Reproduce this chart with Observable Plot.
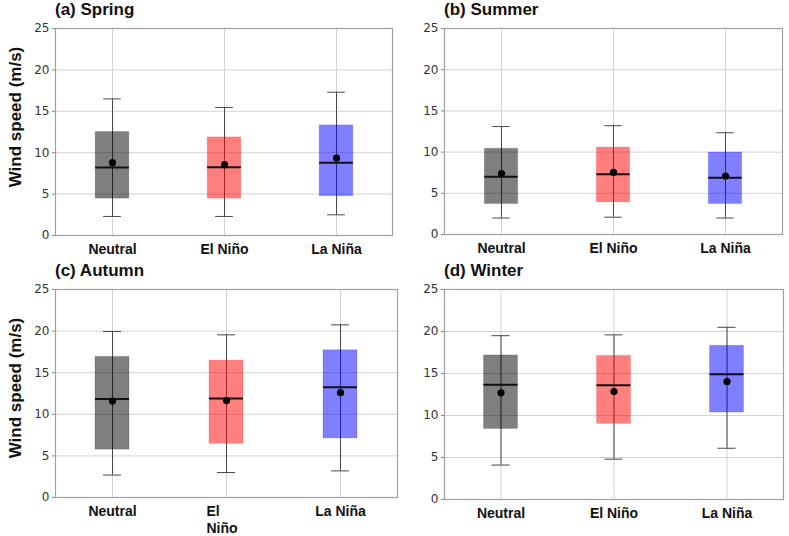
<!DOCTYPE html>
<html>
<head>
<meta charset="utf-8">
<script src="https://cdn.jsdelivr.net/npm/d3@7"></script>
<script src="https://cdn.jsdelivr.net/npm/@observablehq/plot@0.6"></script>
<style>
  html, body { margin: 0; padding: 0; background: #fff; }
  #wrap { position: relative; width: 789px; height: 536px; overflow: hidden; font-family: "Liberation Sans", Arial, sans-serif; }
  .panel { position: absolute; }
  .title { position: absolute; font-weight: bold; font-size: 17px; color: #111; white-space: nowrap; }
  .ylab { position: absolute; font-weight: bold; font-size: 17px; color: #111; white-space: nowrap; transform: translate(-50%, -50%) rotate(-90deg); }
</style>
</head>
<body>
<div id="wrap"></div>
<script>
// ---- data ----
const categories = ["Neutral", "El Niño", "La Niña"];
const seasons = ["(a) Spring", "(b) Summer", "(c) Autumn", "(d) Winter"];
const boxColors = ["#000000", "#ff0000", "#0000ff"];
const yTicks = [0, 5, 10, 15, 20, 25];
// one row per season, values in category order
const whiskerLow  = [[2.3, 2.3, 2.5], [2.0, 2.1, 2.0], [2.7, 3.0, 3.2], [4.1, 4.8, 6.1]];
const quartile1   = [[4.45, 4.45, 4.75], [3.7, 3.9, 3.7], [5.75, 6.45, 7.1], [8.4, 9.0, 10.35]];
const medianVal   = [[8.2, 8.25, 8.8], [7.0, 7.3, 6.9], [11.85, 11.9, 13.25], [13.65, 13.6, 14.9]];
const quartile3   = [[12.5, 11.85, 13.3], [10.4, 10.55, 9.95], [16.9, 16.45, 17.7], [17.15, 17.1, 18.3]];
const whiskerHigh = [[16.5, 15.45, 17.3], [13.1, 13.2, 12.35], [19.95, 19.55, 20.75], [19.5, 19.6, 20.5]];
const meanVal     = [[8.8, 8.55, 9.35], [7.4, 7.55, 7.1], [11.6, 11.65, 12.6], [12.7, 12.85, 14.05]];

// ---- layout ----
const panels = [
  {left: 0,   top: 0,   width: 395, height: 270, mL: 55, mT: 28, mR: 3, mB: 35, ylab: true},
  {left: 395, top: 0,   width: 394, height: 270, mL: 49, mT: 28, mR: 7, mB: 36, ylab: false},
  {left: 0,   top: 270, width: 400, height: 266, mL: 55, mT: 19, mR: 3, mB: 39, ylab: true},
  {left: 395, top: 270, width: 394, height: 266, mL: 49, mT: 19, mR: 6, mB: 37, ylab: false}
];

const wrap = document.getElementById("wrap");
const labelFont = "Liberation Sans, Arial, sans-serif";

panels.forEach((p, si) => {
  const rows = categories.map((c, i) => ({
    cat: c,
    color: boxColors[i],
    low: whiskerLow[si][i],
    q1: quartile1[si][i],
    med: medianVal[si][i],
    q3: quartile3[si][i],
    high: whiskerHigh[si][i],
    mean: meanVal[si][i]
  }));
  const plotW = p.width - p.mL - p.mR;
  const step = plotW / 3;
  const boxInset = (step - 34) / 2;
  const capInset = (step - 18) / 2;

  const xAxes = si === 2
    ? [
        Plot.axisX({ticks: ["Neutral", "La Niña"], tickSize: 0, tickPadding: 9, fontSize: 14, fontWeight: "bold", fill: "#111", label: null, fontFamily: labelFont}),
        Plot.axisX({ticks: ["El Niño"], tickFormat: () => "El\nNiño", textAnchor: "start", dx: -20, lineHeight: 1.2, tickSize: 0, tickPadding: 7, fontSize: 14, fontWeight: "bold", fill: "#111", label: null, fontFamily: labelFont})
      ]
    : [
        Plot.axisX({tickSize: 0, tickPadding: 9, fontSize: 14, fontWeight: "bold", fill: "#111", label: null, fontFamily: labelFont})
      ];

  const chart = Plot.plot({
    width: p.width,
    height: p.height,
    marginLeft: p.mL,
    marginTop: p.mT,
    marginRight: p.mR,
    marginBottom: p.mB,
    style: {background: "transparent", overflow: "visible"},
    x: {type: "band", domain: categories, padding: 0},
    y: {domain: [0, 25], ticks: yTicks},
    marks: [
      Plot.gridY(yTicks, {stroke: "#c8c8c8", strokeOpacity: 1, strokeWidth: 0.8}),
      Plot.gridX(categories, {stroke: "#c8c8c8", strokeOpacity: 1, strokeWidth: 0.8}),
      Plot.ruleX(rows, {x: "cat", y1: "low", y2: "high", stroke: "#484848", strokeWidth: 1}),
      Plot.tickY(rows, {x: "cat", y: "low", stroke: "#484848", strokeWidth: 1, insetLeft: capInset, insetRight: capInset}),
      Plot.tickY(rows, {x: "cat", y: "high", stroke: "#484848", strokeWidth: 1, insetLeft: capInset, insetRight: capInset}),
      Plot.barY(rows, {x: "cat", y1: "q1", y2: "q3", fill: "color", fillOpacity: 0.5, stroke: "color", strokeOpacity: 0.15, strokeWidth: 1, insetLeft: boxInset, insetRight: boxInset}),
      Plot.tickY(rows, {x: "cat", y: "med", stroke: "#111", strokeWidth: 2, insetLeft: boxInset, insetRight: boxInset}),
      Plot.dot(rows, {x: "cat", y: "mean", r: 3.6, fill: "#000", stroke: "none"}),
      Plot.frame({stroke: "#a0a0a0", strokeWidth: 1.2}),
      Plot.axisY({ticks: yTicks, tickSize: 3, tickPadding: 3, stroke: "#888", fontSize: 12, fill: "#333", label: null, fontFamily: "DejaVu Sans, sans-serif"}),
      ...xAxes
    ]
  });
  chart.setAttribute("class", "panel");
  chart.style.left = p.left + "px";
  chart.style.top = p.top + "px";
  chart.style.position = "absolute";
  wrap.appendChild(chart);

  const t = document.createElement("div");
  t.className = "title";
  t.textContent = seasons[si];
  t.style.left = (p.left + p.mL) + "px";
  t.style.top = (p.top + p.mT - 28) + "px";
  wrap.appendChild(t);

  if (p.ylab) {
    const yl = document.createElement("div");
    yl.className = "ylab";
    yl.textContent = "Wind speed (m/s)";
    yl.style.left = (p.left + 16) + "px";
    yl.style.top = (p.top + (si === 0 ? 117 : 118)) + "px";
    wrap.appendChild(yl);
  }
});
</script>
</body>
</html>
